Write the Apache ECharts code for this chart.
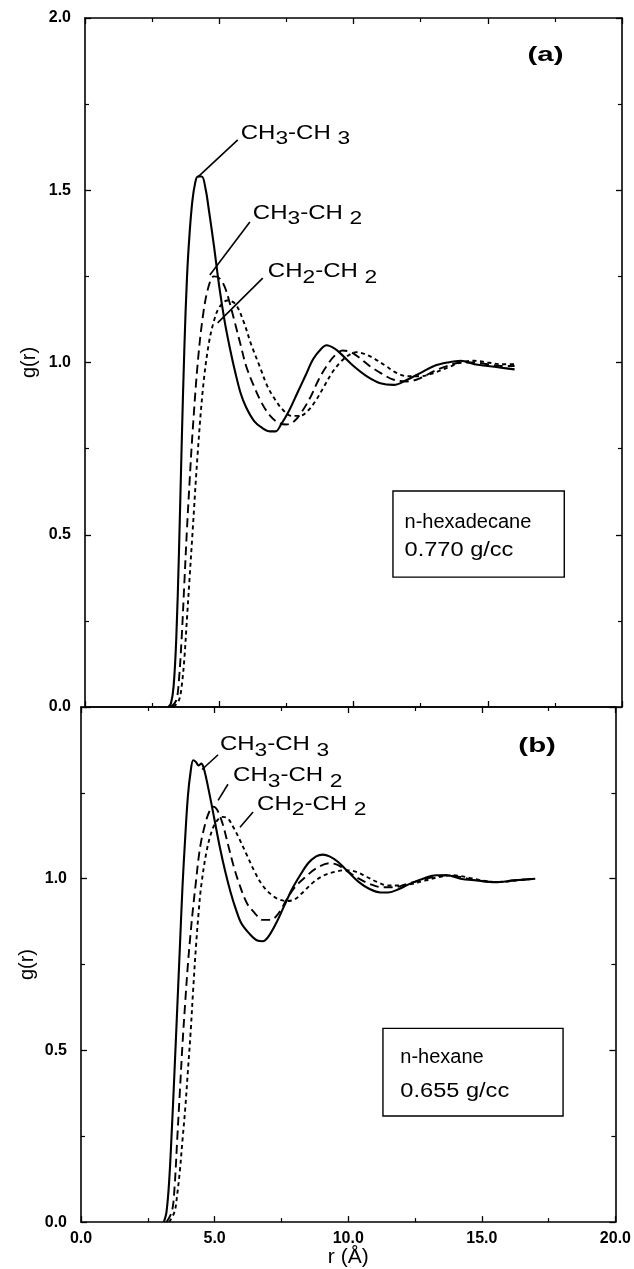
<!DOCTYPE html>
<html><head><meta charset="utf-8">
<script src="https://cdn.jsdelivr.net/npm/echarts@6/dist/echarts.min.js"></script>
<style>html,body{margin:0;padding:0;background:#fff}#c{width:634px;height:1269px}</style>
</head><body><div id="c"></div>
<script>
// ---------- data: g(r) vs r (Å) ----------
// (a) n-hexadecane 0.770 g/cc
const hexadecane_CH3CH3 = [[3.1,0],[3.2,0.01],[3.3,0.06],[3.4,0.2],[3.5,0.45],[3.6,0.76],[3.7,1.04],[3.8,1.25],[3.9,1.38],[4.0,1.47],[4.1,1.52],[4.2,1.54],[4.35,1.54],[4.5,1.5],[4.6,1.45],[4.8,1.34],[5.0,1.22],[5.2,1.12],[5.4,1.04],[5.6,0.97],[5.8,0.91],[6.0,0.87],[6.3,0.83],[6.6,0.81],[6.9,0.8],[7.1,0.8],[7.3,0.82],[7.6,0.86],[7.9,0.91],[8.2,0.96],[8.5,1.01],[8.8,1.04],[9.0,1.05],[9.3,1.04],[9.6,1.02],[10.0,0.99],[10.5,0.96],[11.0,0.94],[11.5,0.935],[12.0,0.95],[12.5,0.97],[13.0,0.99],[13.5,1.0],[14.0,1.005],[14.5,0.995],[15.0,0.99],[15.5,0.985],[16.0,0.98]];
const hexadecane_CH3CH2 = [[3.2,0],[3.4,0.02],[3.5,0.08],[3.6,0.2],[3.7,0.36],[3.8,0.52],[3.9,0.66],[4.0,0.79],[4.2,1.0],[4.4,1.14],[4.6,1.22],[4.8,1.25],[5.0,1.245],[5.2,1.22],[5.4,1.17],[5.6,1.11],[5.8,1.05],[6.0,0.99],[6.3,0.93],[6.6,0.88],[6.9,0.845],[7.2,0.825],[7.5,0.82],[7.8,0.83],[8.1,0.86],[8.4,0.9],[8.7,0.95],[9.0,0.99],[9.3,1.02],[9.6,1.035],[9.9,1.03],[10.2,1.015],[10.6,0.99],[11.0,0.97],[11.5,0.95],[12.0,0.945],[12.5,0.955],[13.0,0.975],[13.5,0.99],[14.0,1.0],[14.5,1.0],[15.0,0.995],[15.5,0.99],[16.0,0.99]];
const hexadecane_CH2CH2 = [[3.3,0],[3.5,0.02],[3.6,0.06],[3.7,0.14],[3.8,0.26],[3.9,0.38],[4.0,0.5],[4.2,0.74],[4.4,0.93],[4.6,1.05],[4.8,1.12],[5.0,1.16],[5.3,1.18],[5.6,1.17],[5.9,1.12],[6.2,1.05],[6.5,0.99],[6.8,0.93],[7.1,0.89],[7.4,0.86],[7.7,0.845],[8.0,0.845],[8.3,0.86],[8.6,0.89],[8.9,0.93],[9.2,0.97],[9.5,1.0],[9.8,1.02],[10.1,1.03],[10.4,1.025],[10.8,1.01],[11.2,0.99],[11.6,0.97],[12.0,0.96],[12.5,0.96],[13.0,0.97],[13.5,0.985],[14.0,1.0],[14.5,1.005],[15.0,1.0],[15.5,0.995],[16.0,0.995]];
// (b) n-hexane 0.655 g/cc
const hexane_CH3CH3 = [[3.1,0],[3.2,0.03],[3.3,0.12],[3.4,0.27],[3.5,0.44],[3.6,0.62],[3.7,0.8],[3.8,0.98],[3.9,1.12],[4.0,1.24],[4.1,1.31],[4.2,1.345],[4.3,1.34],[4.4,1.33],[4.5,1.335],[4.6,1.32],[4.8,1.25],[5.0,1.17],[5.2,1.09],[5.4,1.02],[5.6,0.96],[5.8,0.91],[6.0,0.87],[6.3,0.84],[6.6,0.82],[6.8,0.818],[7.0,0.83],[7.3,0.87],[7.6,0.92],[7.9,0.97],[8.2,1.01],[8.5,1.045],[8.8,1.065],[9.05,1.07],[9.3,1.065],[9.6,1.05],[10.0,1.02],[10.4,0.99],[10.8,0.97],[11.2,0.96],[11.5,0.96],[11.9,0.97],[12.3,0.985],[12.8,1.0],[13.3,1.01],[13.7,1.01],[14.2,1.0],[14.8,0.995],[15.5,0.99],[16.2,0.995],[17.0,1.0]];
const hexane_CH3CH2 = [[3.2,0],[3.4,0.03],[3.5,0.1],[3.6,0.24],[3.7,0.38],[3.8,0.52],[3.9,0.64],[4.0,0.75],[4.1,0.84],[4.2,0.92],[4.3,0.99],[4.4,1.06],[4.5,1.11],[4.65,1.16],[4.8,1.195],[4.95,1.21],[5.1,1.2],[5.3,1.16],[5.5,1.1],[5.7,1.04],[5.9,0.99],[6.2,0.93],[6.5,0.9],[6.8,0.88],[7.1,0.88],[7.4,0.9],[7.7,0.94],[8.0,0.975],[8.4,1.005],[8.8,1.03],[9.3,1.045],[9.6,1.04],[10.0,1.02],[10.4,1.0],[10.8,0.985],[11.3,0.975],[11.7,0.975],[12.2,0.985],[12.7,0.995],[13.2,1.005],[13.7,1.01],[14.2,1.005],[14.8,0.995],[15.5,0.99],[16.2,0.995],[17.0,1.0]];
const hexane_CH2CH2 = [[3.3,0],[3.5,0.03],[3.6,0.08],[3.7,0.15],[3.8,0.24],[3.9,0.33],[4.0,0.44],[4.1,0.55],[4.2,0.68],[4.3,0.8],[4.4,0.9],[4.5,0.98],[4.7,1.08],[4.9,1.14],[5.1,1.17],[5.3,1.18],[5.5,1.175],[5.7,1.15],[5.9,1.12],[6.2,1.07],[6.5,1.02],[6.8,0.98],[7.1,0.955],[7.4,0.94],[7.7,0.935],[8.0,0.94],[8.3,0.96],[8.7,0.99],[9.1,1.01],[9.5,1.02],[9.9,1.025],[10.3,1.02],[10.7,1.005],[11.1,0.99],[11.5,0.98],[11.9,0.98],[12.4,0.985],[12.9,0.995],[13.4,1.005],[13.9,1.01],[14.4,1.005],[15.0,0.995],[15.7,0.99],[16.3,0.995],[17.0,1.0]];

// ---------- tick labels ----------
const xTickLabels = ['0.0','5.0','10.0','15.0','20.0'];
const yTickLabelsA = ['0.0','0.5','1.0','1.5','2.0'];
const yTickLabelsB = ['0.0','0.5','1.0'];

// ---------- texts ----------
const panelTags = ['(a)','(b)'];
const systemNames = ['n-hexadecane','n-hexane'];
const densities = ['0.770 g/cc','0.655 g/cc'];
const pairLabels = ['{m|CH}{s|3}{m|-CH }{s|3}','{m|CH}{s|3}{m|-CH }{s|2}','{m|CH}{s|2}{m|-CH }{s|2}'];
const xTitle = 'r (Å)';
const yTitle = 'g(r)';

const FONT = '"Liberation Sans", Arial, Helvetica, sans-serif';
const chart = echarts.init(document.getElementById('c'), null, {renderer:'canvas'});

const grids = [
  {left:85, right:12, top:18, height:689},
  {left:81, right:17, top:707, height:516}
];

function xAx(gi, pos, labels){
  return {
    type:'value', gridIndex:gi, position:pos, min:0, max:20, interval:5,
    axisLine:{show:true, onZero:false, lineStyle:{color:'#000', width:1.6}},
    axisTick:{show:true, inside:true, length:6, lineStyle:{color:'#000', width:1.3}},
    minorTick:{show:true, splitNumber:2, length:4, lineStyle:{color:'#000', width:1.2}},
    splitLine:{show:false},
    axisLabel:{show:!!labels, margin:8, color:'#000', fontFamily:FONT, fontWeight:'bold', fontSize:16,
      formatter:v=>{const i=Math.round(v/5); return (labels && Math.abs(v-i*5)<1e-6) ? (labels[i]||'') : '';}},
    name: (labels ? xTitle : ''), nameLocation:'middle', nameGap:24,
    nameTextStyle:{color:'#000', fontFamily:FONT, fontSize:21}
  };
}
function yAx(gi, pos, max, labels){
  return {
    type:'value', gridIndex:gi, position:pos, min:0, max:max, interval:0.5,
    axisLine:{show:true, onZero:false, lineStyle:{color:'#000', width:1.6}},
    axisTick:{show:true, inside:true, length:6, lineStyle:{color:'#000', width:1.3}},
    minorTick:{show:true, splitNumber:2, length:4, lineStyle:{color:'#000', width:1.2}},
    splitLine:{show:false},
    axisLabel:{show:!!labels, margin:14, color:'#000', fontFamily:FONT, fontWeight:'bold', fontSize:16,
      formatter:v=>{const i=Math.round(v/0.5); return (labels && Math.abs(v-i*0.5)<1e-6) ? (labels[i]||'') : '';}}
  };
}

const solid = {color:'#000', width:2.1, type:'solid'};
const longDash = {color:'#000', width:1.9, type:[9,5]};
const shortDash = {color:'#000', width:1.9, type:[4,3.5]};
function ser(data, xi, yi, ls, name){
  return {type:'line', name, data, xAxisIndex:xi, yAxisIndex:yi, showSymbol:false, symbol:'none',
    smooth:0.35, lineStyle:ls, silent:true, z:3};
}

chart.setOption({
  animation:false,
  backgroundColor:'#fff',
  grid:grids,
  xAxis:[xAx(0,'bottom',null), xAx(0,'top',null), xAx(1,'bottom',xTickLabels), xAx(1,'top',null)],
  yAxis:[yAx(0,'left',2,yTickLabelsA), yAx(0,'right',2,null), yAx(1,'left',1.5,yTickLabelsB), yAx(1,'right',1.5,null)],
  series:[
    ser(hexadecane_CH3CH3,0,0,solid,'CH3-CH3 (a)'),
    ser(hexadecane_CH3CH2,0,0,longDash,'CH3-CH2 (a)'),
    ser(hexadecane_CH2CH2,0,0,shortDash,'CH2-CH2 (a)'),
    ser(hexane_CH3CH3,2,2,solid,'CH3-CH3 (b)'),
    ser(hexane_CH3CH2,2,2,longDash,'CH3-CH2 (b)'),
    ser(hexane_CH2CH2,2,2,shortDash,'CH2-CH2 (b)')
  ]
});

// ---------- annotations (anchored in data space) ----------
const P = (gi, r, g) => chart.convertToPixel({xAxisIndex: gi===0?0:2, yAxisIndex: gi===0?0:2}, [r, g]);
const rich = {
  m:{fontFamily:FONT, fontSize:20, fill:'#000'},
  s:{fontFamily:FONT, fontSize:19, fill:'#000', padding:[12,0,0,0]}
};
// leader lines: [grid, r1, g1, r2, g2, textR, textG, labelIndex]
const leaders = [
  [0, 4.2, 1.538, 5.69, 1.646, 5.8, 1.666, 0],
  [0, 4.65, 1.254, 6.14, 1.408, 6.25, 1.434, 1],
  [0, 4.94, 1.115, 6.62, 1.245, 6.81, 1.263, 2],
  [1, 4.53, 1.318, 5.13, 1.361, 5.2, 1.39, 0],
  [1, 5.13, 1.228, 5.5, 1.275, 5.69, 1.30, 1],
  [1, 5.95, 1.15, 6.44, 1.194, 6.59, 1.217, 2]
];
const graphics = [];
leaders.forEach(l=>{
  const a = P(l[0], l[1], l[2]), b = P(l[0], l[3], l[4]), t = P(l[0], l[5], l[6]);
  graphics.push({type:'line', shape:{x1:a[0], y1:a[1], x2:b[0], y2:b[1]}, style:{stroke:'#000', lineWidth:1.6}, z:10});
  graphics.push({type:'text', x:t[0], y:t[1], scaleX:1.2, style:{text:pairLabels[l[7]], rich, fill:'#000', verticalAlign:'middle', align:'left'}, z:10});
});
// panel tags
[[0,17.15,1.893],[1,17.07,1.387]].forEach((p,i)=>{
  const t = P(p[0], p[1], p[2]);
  graphics.push({type:'text', x:t[0], y:t[1], scaleX:1.4, style:{text:panelTags[i], fontFamily:FONT, fontSize:21, fontWeight:'bold', fill:'#000', align:'center', verticalAlign:'middle'}, z:10});
});
// info boxes: [grid, r1, g1, r2, g2, nameR, nameG, densG]
[[0, 11.47, 0.627, 17.85, 0.377, 11.9, 0.537, 0.453],[1, 11.3, 0.564, 18.04, 0.309, 11.95, 0.48, 0.379]].forEach((b,i)=>{
  const p1 = P(b[0], b[1], b[2]), p2 = P(b[0], b[3], b[4]);
  const w = p2[0]-p1[0], h = p2[1]-p1[1];
  const n = P(b[0], b[5], b[6]), d = P(b[0], b[5], b[7]);
  graphics.push({type:'rect', shape:{x:p1[0], y:p1[1], width:w, height:h}, style:{fill:'#fff', stroke:'#000', lineWidth:1.4}, z:9});
  graphics.push({type:'text', x:n[0], y:n[1], style:{text:systemNames[i], fontFamily:FONT, fontSize:20, fill:'#000', align:'left', verticalAlign:'middle'}, z:10});
  graphics.push({type:'text', x:d[0], y:d[1], scaleX:1.18, style:{text:densities[i], fontFamily:FONT, fontSize:20, fill:'#000', align:'left', verticalAlign:'middle'}, z:10});
});
// y-axis titles (centred on each panel)
const ya = P(0, 0, 1.0), yb = P(1, 0, 0.75);
graphics.push({type:'text', x:ya[0]-56, y:ya[1], rotation:Math.PI/2, style:{text:yTitle, fontFamily:FONT, fontSize:20, fill:'#000', align:'center', verticalAlign:'middle'}, z:10});
graphics.push({type:'text', x:yb[0]-54, y:yb[1], rotation:Math.PI/2, style:{text:yTitle, fontFamily:FONT, fontSize:20, fill:'#000', align:'center', verticalAlign:'middle'}, z:10});
chart.setOption({graphic:graphics});
</script></body></html>
